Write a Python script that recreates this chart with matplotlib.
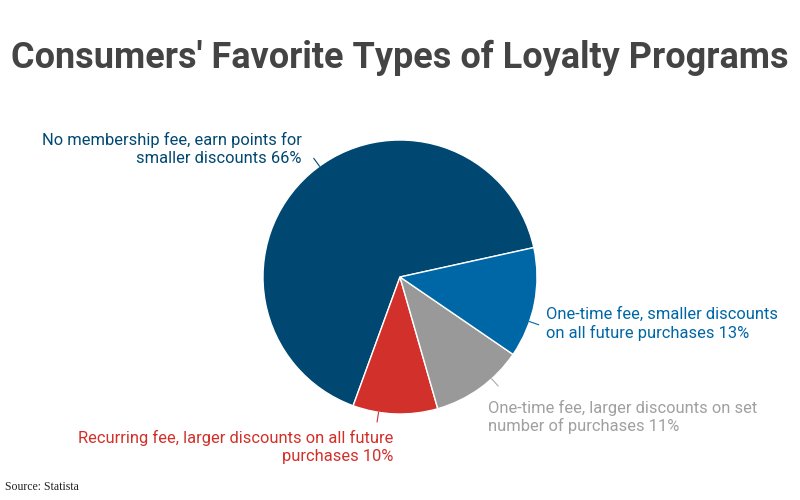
import numpy as np
import matplotlib.pyplot as plt

labels = ["No membership fee, earn points for\nsmaller discounts 66%",
          "Recurring fee, larger discounts on all future\npurchases 10%",
          "One-time fee, larger discounts on set\nnumber of purchases 11%",
          "One-time fee, smaller discounts\non all future purchases 13%"]
values = [66, 10, 11, 13]
colors = ["#004872", "#d1312a", "#999999", "#0067a7"]
text_colors = ["#004872", "#d1312a", "#a0a0a0", "#0067a7"]

fig = plt.figure(figsize=(8, 5), dpi=100)
ax = fig.add_axes([0, 0, 1, 1])

cx, cy, r = 400, 223, 137
wedges, _ = ax.pie(values, colors=colors, startangle=12.4, counterclock=True,
                   center=(cx, cy), radius=r, frame=True,
                   wedgeprops=dict(edgecolor="white", linewidth=1))
ax.set_xlim(0, 800)
ax.set_ylim(0, 500)
ax.set_aspect("equal")
ax.axis("off")

# label positions (x, y, ha) and leader line angles
label_pos = [(302, 351, "right"), (393, 53, "right"), (488, 83, "left"), (546, 176, "left")]
leader_ang = [126, 261, 312, 341]
for lab, (x, y, ha), c, ang in zip(labels, label_pos, text_colors, leader_ang):
    ax.text(x, y, lab, ha=ha, va="center", fontsize=11.9, color=c,
            family="Roboto", linespacing=1.2)
    a = np.radians(ang)
    ax.plot([cx + r * np.cos(a), cx + r * 1.07 * np.cos(a)],
            [cy + r * np.sin(a), cy + r * 1.07 * np.sin(a)],
            color="#aaaaaa" if c == "#a0a0a0" else c, lw=0.8)

fig.text(0.5, 0.885, "Consumers' Favorite Types of Loyalty Programs", ha="center", va="center",
         fontsize=25.9, fontweight="bold", color="#444444", family="Roboto")
fig.text(0.006, 0.025, "Source: Statista", ha="left", va="center", fontsize=8.5,
         color="#222222", family="Liberation Serif")

fig.savefig("out.png", dpi=100)
